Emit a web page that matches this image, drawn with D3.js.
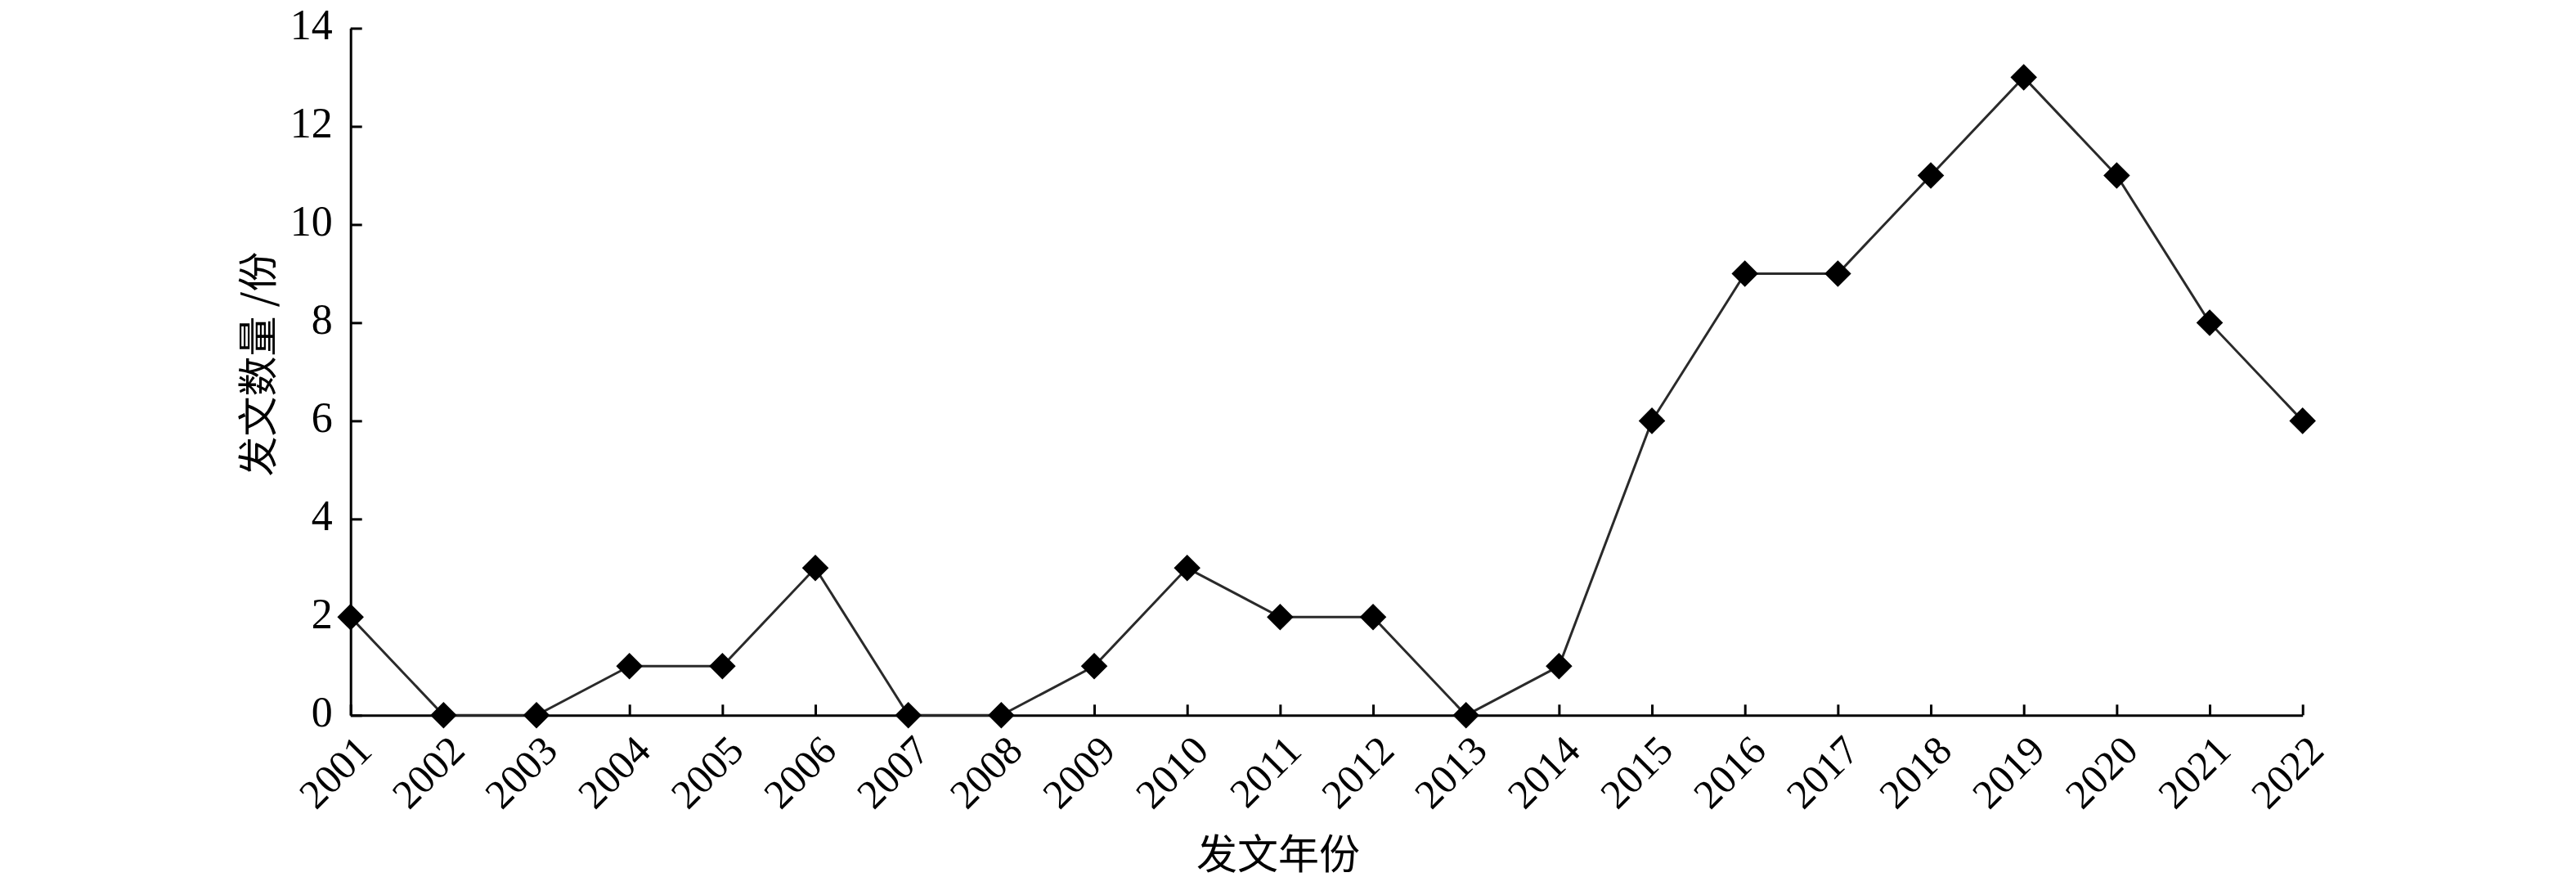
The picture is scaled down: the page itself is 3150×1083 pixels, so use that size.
<!DOCTYPE html>
<html><head><meta charset="utf-8">
<script src="https://cdn.jsdelivr.net/npm/d3@7"></script>
<style>body{margin:0;background:#fff;}svg{display:block;}</style>
</head><body>
<script>
const years = ["2001","2002","2003","2004","2005","2006","2007","2008","2009","2010","2011","2012","2013","2014","2015","2016","2017","2018","2019","2020","2021","2022"];
const counts = [2,0,0,1,1,3,0,0,1,3,2,2,0,1,6,9,9,11,13,11,8,6];
const yTicks = [0,2,4,6,8,10,12,14];
const xTitle = "发文年份";
const yTitle = "发文数量 /份";

(function () {
const W = 3150, H = 1083;
const mLeft = 428.7, mRight = 2815.7, mTop = 34.5, mBottom = 874.3;
const serif = "'Liberation Serif','Times New Roman',serif";
const cjk = "'Noto Sans CJK SC','Liberation Serif',serif";

const svg = d3.select("body").append("svg").attr("width", W).attr("height", H);
const x = d3.scalePoint().domain(years).range([mLeft, mRight]);
const y = d3.scaleLinear().domain([0, 14]).range([mBottom, mTop]);

// Y axis
const yAxis = svg.append("g").attr("transform", `translate(${mLeft},0)`)
  .call(d3.axisLeft(y).tickValues(yTicks).tickSize(-14).tickPadding(22).tickSizeOuter(0));
yAxis.select(".domain").attr("stroke", "#000").attr("stroke-width", 3);
yAxis.selectAll(".tick line").attr("stroke", "#000").attr("stroke-width", 3);
yAxis.selectAll(".tick text").attr("font-family", serif).attr("font-size", 52).attr("fill", "#000").attr("dy", "0.25em");

// X axis
const xAxis = svg.append("g").attr("transform", `translate(0,${mBottom})`)
  .call(d3.axisBottom(x).tickSize(-13).tickSizeOuter(0).tickFormat(d => d));
xAxis.select(".domain").attr("stroke", "#000").attr("stroke-width", 3);
xAxis.selectAll(".tick line").attr("stroke", "#000").attr("stroke-width", 3);
xAxis.selectAll(".tick text")
  .attr("font-family", serif).attr("font-size", 50).attr("fill", "#000")
  .attr("text-anchor", "end").attr("x", 0).attr("y", 0).attr("dy", 0)
  .attr("transform", "translate(28,46) rotate(-45)");

// line
svg.append("path").datum(counts)
  .attr("fill", "none").attr("stroke", "#2a2a2a").attr("stroke-width", 3)
  .attr("d", d3.line().x((d, i) => x(years[i])).y(d => y(d)));

// markers
const sym = d3.symbol().type(d3.symbolSquare).size(23 * 23);
svg.selectAll(".m").data(counts).join("path")
  .attr("d", sym)
  .attr("transform", (d, i) => `translate(${x(years[i])},${y(d)}) rotate(45)`)
  .attr("fill", "#000");

// titles
svg.append("text").attr("x", 1563).attr("y", 1044).attr("dy", "0.35em")
  .attr("text-anchor", "middle").attr("font-family", cjk).attr("font-size", 50).attr("fill", "#000")
  .text(xTitle);
svg.append("text").attr("transform", "translate(316,445) rotate(-90)").attr("dy", "0.35em")
  .attr("text-anchor", "middle").attr("font-family", cjk).attr("font-size", 49).attr("fill", "#000")
  .text(yTitle);
})();
</script>
</body></html>
